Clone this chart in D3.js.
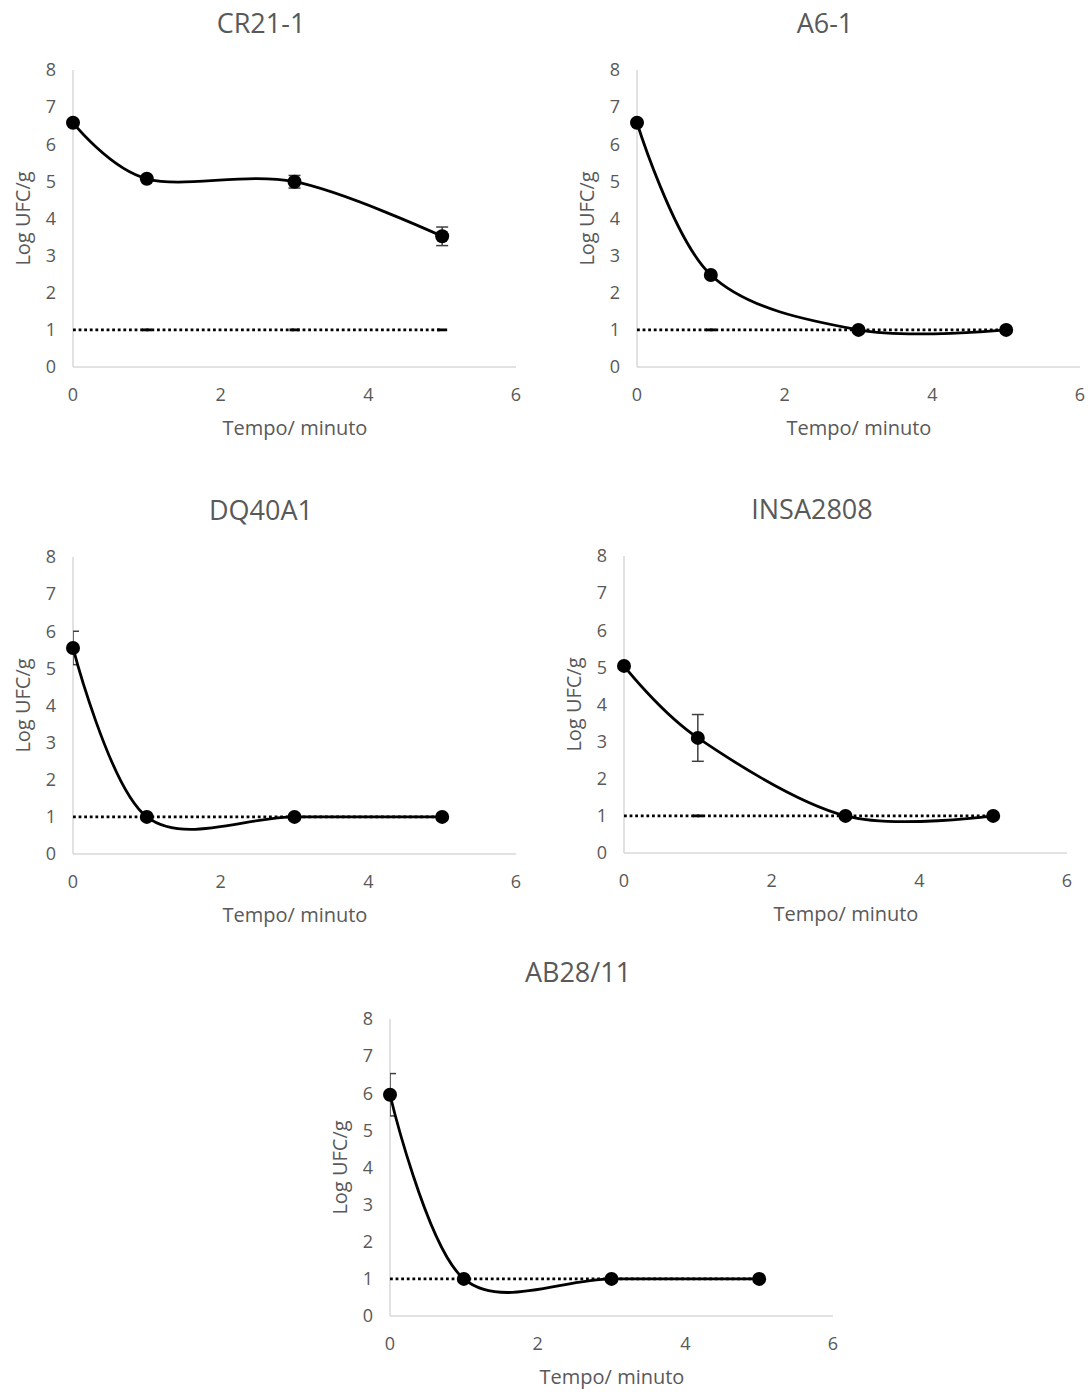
<!DOCTYPE html>
<html>
<head>
<meta charset="utf-8">
<script src="https://cdn.jsdelivr.net/npm/d3@7"></script>
<style>
  body { margin: 0; background: #fff; }
  text { font-family: "Open Sans", "Noto Sans", sans-serif; fill: #595959; }
</style>
</head>
<body>
<div id="chart"></div>
<script>
// shared data
var tempo = [0, 1, 3, 5];
var limite = [1, 1, 1, 1];
var xTicks = [0, 2, 4, 6];
var yTicks = [0, 1, 2, 3, 4, 5, 6, 7, 8];

// one array per strain
var titles = ["CR21-1", "A6-1", "DQ40A1", "INSA2808", "AB28/11"];
var cr21 = [6.58, 5.07, 4.99, 3.52];
var cr21Err = [0, 0, 0.17, 0.25];
var a6 = [6.58, 2.48, 1.0, 1.0];
var a6Err = [0, 0, 0, 0];
var dq40 = [5.55, 1.0, 1.0, 1.0];
var dq40Err = [0.45, 0, 0, 0];
var insa = [5.04, 3.1, 1.0, 1.0];
var insaErr = [0, 0.63, 0, 0];
var ab28 = [5.96, 1.0, 1.0, 1.0];
var ab28Err = [0.57, 0, 0, 0];

var series = [cr21, a6, dq40, insa, ab28];
var errors = [cr21Err, a6Err, dq40Err, insaErr, ab28Err];

// plot area top-left of each panel
var origins = [[73, 70], [637, 70], [73, 557], [624, 556], [390, 1019]];
var pw = 443, ph = 297;

var svg = d3.select("#chart").append("svg")
    .attr("width", 1088)
    .attr("height", 1392);

series.forEach(function (vals, i) {
    var g = svg.append("g")
        .attr("transform", "translate(" + origins[i][0] + "," + origins[i][1] + ")");

    var x = d3.scaleLinear().domain([0, 6]).range([0, pw]);
    var y = d3.scaleLinear().domain([0, 8]).range([ph, 0]);

    g.append("clipPath").attr("id", "clip" + i)
        .append("rect").attr("x", 0).attr("y", -20).attr("width", pw + 20).attr("height", ph + 20);

    // axes (no ticks, light lines)
    g.append("line").attr("x1", 0).attr("x2", 0).attr("y1", 0).attr("y2", ph)
        .attr("stroke", "#d9d9d9").attr("stroke-width", 1.5);
    g.append("line").attr("x1", 0).attr("x2", pw).attr("y1", ph).attr("y2", ph)
        .attr("stroke", "#d9d9d9").attr("stroke-width", 1.5);

    g.selectAll(".yt").data(yTicks).enter().append("text")
        .attr("x", -22).attr("y", function (d) { return y(d); })
        .attr("dy", "0.35em").attr("text-anchor", "middle")
        .style("font-size", "18px")
        .text(function (d) { return d; });

    g.selectAll(".xt").data(xTicks).enter().append("text")
        .attr("x", function (d) { return x(d); }).attr("y", ph + 28)
        .attr("dy", "0.35em").attr("text-anchor", "middle")
        .style("font-size", "18px")
        .text(function (d) { return d; });

    // titles
    g.append("text").attr("x", 188).attr("y", -46).attr("dy", "0.35em")
        .attr("text-anchor", "middle").style("font-size", "27px")
        .text(titles[i]);
    g.append("text").attr("x", 222).attr("y", ph + 61).attr("dy", "0.35em")
        .attr("text-anchor", "middle").style("font-size", "20px")
        .text("Tempo/ minuto");
    g.append("text")
        .attr("transform", "translate(-50," + (ph / 2) + ") rotate(-90)")
        .attr("dy", "0.35em").attr("text-anchor", "middle").style("font-size", "20px")
        .text("Log UFC/g");

    // detection limit: dotted line with dash markers
    var lim = tempo.map(function (t, j) { return [t, limite[j]]; });
    g.append("path").datum(lim)
        .attr("d", d3.line().x(function (d) { return x(d[0]); }).y(function (d) { return y(d[1]); }))
        .attr("fill", "none").attr("stroke", "#000")
        .attr("stroke-width", 2.8).attr("stroke-dasharray", "2.8,2.8");
    g.append("g").attr("clip-path", "url(#clip" + i + ")")
        .selectAll(".dm").data(lim.slice(1)).enter().append("line")
        .attr("x1", function (d) { return x(d[0]) - 5; })
        .attr("x2", function (d) { return x(d[0]) + 5; })
        .attr("y1", function (d) { return y(d[1]); })
        .attr("y2", function (d) { return y(d[1]); })
        .attr("stroke", "#000").attr("stroke-width", 2.8);

    // error bars
    var pts = tempo.map(function (t, j) { return { t: t, v: vals[j], e: errors[i][j] }; });
    var eg = g.append("g").attr("clip-path", "url(#clip" + i + ")")
        .selectAll(".eb").data(pts.filter(function (d) { return d.e > 0; })).enter().append("g")
        .attr("stroke", "#404040").attr("stroke-width", 1.5);
    eg.append("line")
        .attr("x1", function (d) { return x(d.t); }).attr("x2", function (d) { return x(d.t); })
        .attr("y1", function (d) { return y(d.v + d.e); }).attr("y2", function (d) { return y(d.v - d.e); });
    [1, -1].forEach(function (s) {
        eg.append("line")
            .attr("x1", function (d) { return x(d.t) - 6; }).attr("x2", function (d) { return x(d.t) + 6; })
            .attr("y1", function (d) { return y(d.v + s * d.e); }).attr("y2", function (d) { return y(d.v + s * d.e); });
    });

    // smoothed data line
    var line = d3.line()
        .curve(d3.curveCardinal.tension(0))
        .x(function (d) { return x(d.t); })
        .y(function (d) { return y(d.v); });
    g.append("path").datum(pts)
        .attr("d", line)
        .attr("fill", "none").attr("stroke", "#000").attr("stroke-width", 2.8);

    g.selectAll(".pt").data(pts).enter().append("circle")
        .attr("cx", function (d) { return x(d.t); })
        .attr("cy", function (d) { return y(d.v); })
        .attr("r", 7).attr("fill", "#000");
});
</script>
</body>
</html>
